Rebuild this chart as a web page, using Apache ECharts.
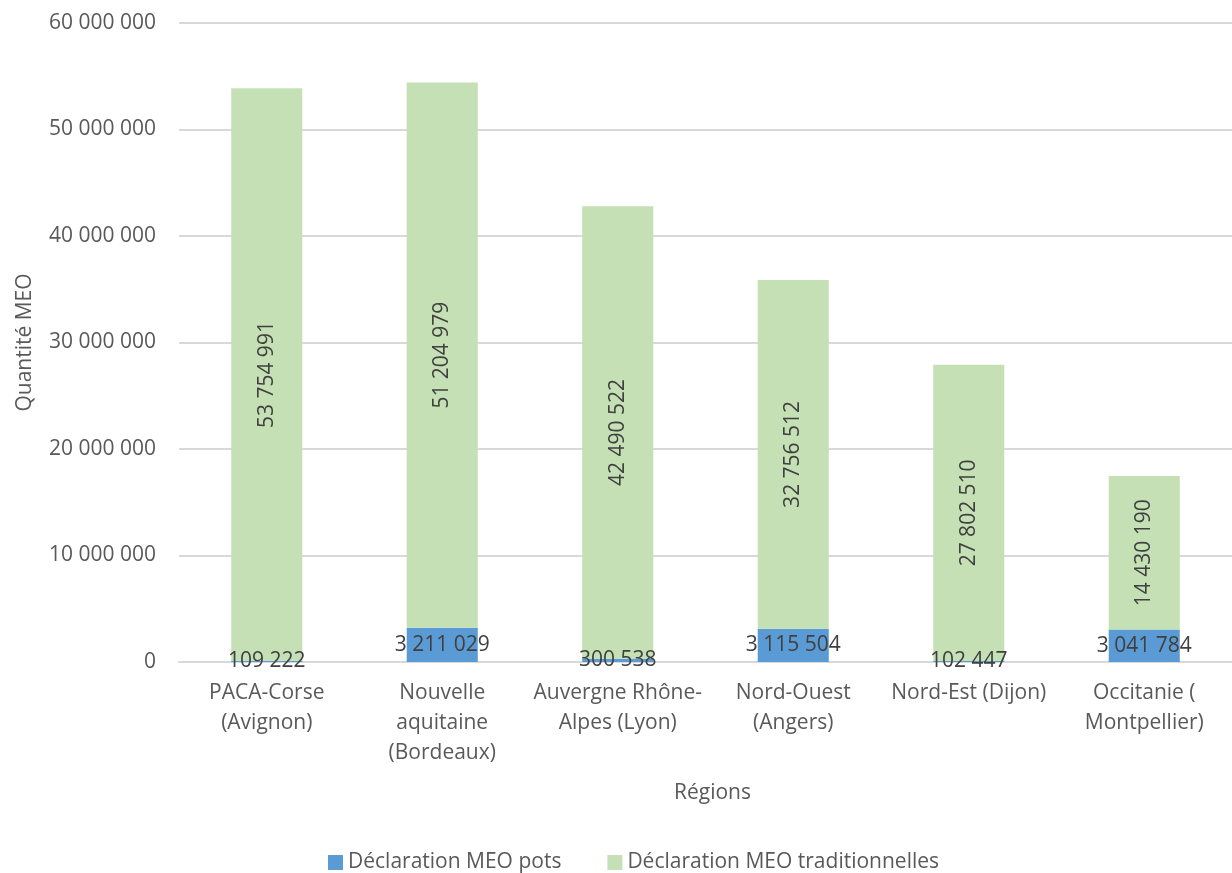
<!DOCTYPE html>
<html><head><meta charset="utf-8">
<script src="https://cdn.jsdelivr.net/npm/echarts@6/dist/echarts.min.js"></script>
<style>html,body{margin:0;padding:0;background:#fff}#c{width:1232px;height:873px}</style>
</head><body><div id="c"></div>
<script>
const categories = ["PACA-Corse\n(Avignon)", "Nouvelle\naquitaine\n(Bordeaux)", "Auvergne Rhône-\nAlpes (Lyon)", "Nord-Ouest\n(Angers)", "Nord-Est (Dijon)", "Occitanie (\nMontpellier)"];
const potsValues = [109222, 3211029, 300538, 3115504, 102447, 3041784];
const tradValues = [53754991, 51204979, 42490522, 32756512, 27802510, 14430190];
const seriesNames = ["Déclaration MEO pots", "Déclaration MEO traditionnelles"];
const yTicks = { min: 0, max: 60000000, interval: 10000000 };

const fmt = v => String(Math.round(v)).replace(/\B(?=(\d{3})+(?!\d))/g, ' ');
const FONT = 'Open Sans';
const FS = 21;
const chart = echarts.init(document.getElementById('c'));
chart.setOption({
  animation: false,
  textStyle: { fontFamily: FONT },
  grid: { left: 179, right: 0, top: 23, bottom: 211 },
  legend: {
    bottom: -5, left: 323, itemWidth: 15, itemHeight: 15, itemGap: 46,
    icon: 'rect',
    textStyle: { fontSize: FS, color: '#595959', fontFamily: FONT },
    data: seriesNames
  },
  xAxis: {
    type: 'category', data: categories,
    name: 'Régions', nameLocation: 'middle', nameGap: 121,
    nameTextStyle: { fontSize: FS, color: '#595959', fontFamily: FONT, padding: [0, 0, 0, 14] },
    axisLine: { lineStyle: { color: '#d9d9d9', width: 2 } },
    axisTick: { show: false },
    axisLabel: { fontSize: FS, color: '#595959', lineHeight: 30, margin: 16, interval: 0, fontFamily: FONT }
  },
  yAxis: {
    type: 'value', min: yTicks.min, max: yTicks.max, interval: yTicks.interval,
    name: 'Quantité MEO', nameLocation: 'middle', nameGap: 143, nameRotate: 90,
    nameTextStyle: { fontSize: FS, color: '#595959', fontFamily: FONT },
    axisLine: { show: false }, axisTick: { show: false },
    splitLine: { lineStyle: { color: '#d9d9d9', width: 2 } },
    axisLabel: { fontSize: FS, color: '#595959', margin: 23, formatter: fmt, fontFamily: FONT }
  },
  series: [
    {
      name: seriesNames[0], type: 'bar', stack: 'a', data: potsValues,
      barWidth: '40.5%', itemStyle: { color: '#5B9BD5' },
      label: { show: true, position: 'inside', formatter: p => fmt(p.value), fontSize: FS, color: '#404040', fontFamily: FONT }
    },
    {
      name: seriesNames[1], type: 'bar', stack: 'a', data: tradValues,
      barWidth: '40.5%', itemStyle: { color: '#C5E0B4' },
      label: { show: true, position: 'inside', rotate: 90, formatter: p => fmt(p.value), fontSize: FS, color: '#404040', fontFamily: FONT }
    }
  ]
});
</script></body></html>
